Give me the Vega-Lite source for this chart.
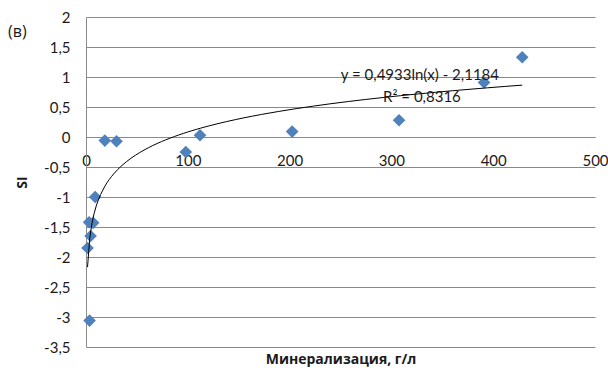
{
  "$schema": "https://vega.github.io/schema/vega-lite/v6.json",
  "width": 509,
  "height": 330,
  "autosize": "none",
  "padding": {"left": 86, "top": 17, "right": 13, "bottom": 24},
  "background": "white",
  "title": {"text": "(в)", "anchor": "start", "frame": "group", "dx": -78, "dy": 30, "fontSize": 16, "font": "Open Sans", "fontWeight": "normal", "color": "#1a1a1a", "offset": 0},
  "data": {"values": [
    {"M": 1.5, "SI": -1.85},
    {"M": 3, "SI": -1.42},
    {"M": 7, "SI": -1.43},
    {"M": 4.5, "SI": -1.65},
    {"M": 9, "SI": -1.0},
    {"M": 3.5, "SI": -3.06},
    {"M": 18.5, "SI": -0.06},
    {"M": 30, "SI": -0.07},
    {"M": 98, "SI": -0.25},
    {"M": 112, "SI": 0.03},
    {"M": 202.5, "SI": 0.09},
    {"M": 307.5, "SI": 0.28},
    {"M": 391, "SI": 0.91},
    {"M": 428.5, "SI": 1.33}
  ]},
  "encoding": {
    "x": {"field": "M", "type": "quantitative", "scale": {"domain": [0, 500], "nice": false},
      "axis": {"values": [0, 100, 200, 300, 400, 500], "offset": -210, "grid": false, "ticks": false, "domain": true, "domainColor": "#8a8a8a",
        "labelFlush": false, "labelOverlap": false, "labelDx": -2,
        "labelPadding": 16, "labelFontSize": 15, "labelFont": "Lato", "labelColor": "#1a1a1a",
        "title": "Минерализация, г/л", "titleY": 215, "titleFontSize": 14, "titleFont": "Open Sans", "titleFontWeight": "bold", "titleColor": "#1a1a1a"}},
    "y": {"field": "SI", "type": "quantitative", "scale": {"domain": [-3.5, 2], "nice": false},
      "axis": {"values": [-3.5, -3, -2.5, -2, -1.5, -1, -0.5, 0, 0.5, 1, 1.5, 2], "grid": true, "gridColor": "#8a8a8a", "ticks": false, "domainColor": "#8a8a8a",
        "labelPadding": 16, "labelFontSize": 15, "labelFont": "Lato", "labelColor": "#1a1a1a", "labelFlush": false,
        "labelExpr": "replace(toString(datum.value), '.', ',')",
        "title": "SI", "titleFontSize": 14, "titleFont": "Open Sans", "titleFontWeight": "bold", "titleColor": "#1a1a1a", "titlePadding": 14}}
  },
  "layer": [
    {"mark": {"type": "point", "shape": "diamond", "filled": true, "size": 160, "color": "#4f81bd", "opacity": 1}},
    {"transform": [{"regression": "SI", "on": "M", "method": "log"}],
      "mark": {"type": "line", "color": "#000000", "strokeWidth": 1}},
    {"data": {"values": [
      {"M": 328, "SI": 1.03, "label": "y = 0,4933ln(x) - 2,1184"},
      {"M": 330, "SI": 0.66, "label": "R² = 0,8316"}
    ]},
      "mark": {"type": "text", "font": "Lato", "fontSize": 15, "color": "#1a1a1a", "align": "center", "baseline": "middle"},
      "encoding": {"text": {"field": "label"}}}
  ],
  "config": {"view": {"stroke": null}}
}
